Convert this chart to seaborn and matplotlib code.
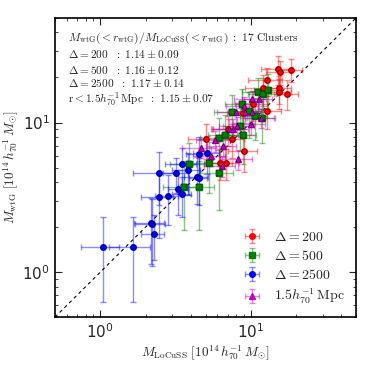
import numpy as np
import seaborn as sns
import matplotlib
matplotlib.use("Agg")
import matplotlib.pyplot as plt
from matplotlib.colors import to_rgba

# values (10^14 h70^-1 Msun)
x200 = [15.2, 15.6, 18.5, 12.8, 12.1, 15.4, 15.4, 17.4, 10.3, 12.8, 8.9, 5.0, 7.5, 9.0, 6.2, 6.8, 7.0]
y200 = [22.9, 21.9, 22.6, 19.1, 16.9, 16.9, 15.9, 15.6, 13.2, 12.0, 11.5, 7.7, 7.8, 6.5, 5.4, 5.4, 9.0]
xe200 = [3.5, 3.0, 3.5, 3.2, 3.0, 3.0, 3.0, 3.2, 2.5, 3.0, 2.0, 1.2, 1.5, 2.0, 1.3, 1.5, 1.5]
ye200 = [5.0, 4.0, 4.0, 4.0, 4.0, 3.5, 3.5, 3.5, 3.0, 3.0, 2.5, 2.0, 2.0, 1.8, 1.3, 1.3, 2.0]

x500 = [11.2, 12.1, 13.0, 8.7, 7.5, 9.7, 10.7, 11.9, 8.9, 6.7, 6.1, 5.3, 3.9, 6.1, 3.6, 4.5, 8.5]
y500 = [15.9, 15.4, 16.5, 13.2, 11.7, 11.9, 11.1, 10.8, 8.3, 8.2, 7.9, 5.4, 5.3, 4.6, 3.7, 3.7, 9.5]
xe500 = [2.5, 2.5, 2.5, 2.0, 1.8, 2.0, 2.2, 2.5, 2.0, 1.5, 1.5, 1.2, 1.0, 1.5, 1.0, 1.2, 2.0]
ye500 = [4.0, 4.5, 4.5, 3.5, 3.5, 4.0, 3.5, 3.5, 3.0, 3.0, 2.8, 2.0, 2.0, 2.0, 1.8, 1.8, 3.0]

x2500 = [5.1, 4.5, 3.5, 3.2, 2.45, 4.4, 4.5, 3.3, 3.5, 2.45, 2.8, 2.17, 2.2, 2.27, 1.04, 1.65, 3.8]
y2500 = [6.3, 6.2, 5.3, 4.6, 4.6, 4.35, 4.29, 3.6, 3.35, 3.2, 3.25, 2.14, 2.1, 1.81, 1.48, 1.48, 4.8]
xe2500 = [1.0, 0.8, 0.8, 0.6, 0.8, 0.8, 0.6, 0.5, 0.5, 0.6, 0.5, 0.5, 0.5, 0.4, 0.3, 0.5, 0.8]
ye2500 = [1.8, 1.8, 1.5, 1.2, 1.8, 1.5, 1.5, 1.2, 1.0, 1.5, 1.2, 1.0, 1.0, 0.6, 0.85, 0.85, 1.5]

xmpc = [10.2, 11.3, 8.0, 9.1, 10.2, 11.7, 8.1, 7.2, 7.6, 10.0, 4.7, 6.5, 8.2, 6.4, 5.8, 9.0, 5.4]
ympc = [14.3, 14.3, 11.7, 11.7, 11.7, 10.8, 9.5, 9.1, 9.1, 9.7, 6.8, 7.0, 5.7, 5.1, 7.6, 12.8, 6.0]
xempc = [2.5, 2.5, 2.0, 2.0, 2.5, 2.5, 2.0, 1.8, 2.0, 2.5, 1.2, 1.5, 2.0, 1.5, 1.5, 2.2, 1.3]
yempc = [2.0, 2.0, 1.8, 1.8, 1.8, 1.6, 1.4, 1.4, 1.4, 1.5, 1.0, 1.0, 0.9, 0.8, 1.2, 2.0, 0.9]

labels = [r"$\Delta=200$", r"$\Delta=500$", r"$\Delta=2500$", r"$1.5h_{70}^{-1}\,\rm Mpc$"]
stats = [r"$\Delta=200\ \ :\ 1.14\pm0.09$",
         r"$\Delta=500\ \ :\ 1.16\pm0.12$",
         r"$\Delta=2500\ \ :\ 1.17\pm0.14$",
         r"$\rm r<1.5\mathit{h}_{70}^{-1}\,Mpc\ \ :\ 1.15\pm0.07$"]
stat_y = [0.88, 0.826, 0.783, 0.728]

sns.set_style("ticks")

series = [
    (x200, y200, xe200, ye200, "o", "red"),
    (x500, y500, xe500, ye500, "s", "green"),
    (x2500, y2500, xe2500, ye2500, "o", "blue"),
    (xmpc, ympc, xempc, yempc, "^", "m"),
]

fig = plt.figure(figsize=(3.74, 3.74), dpi=100)
ax = fig.add_axes([0.147, 0.152, 0.805, 0.80])

lim = [0.5, 50]
ax.plot(lim, lim, ls=(0, (3, 3)), color="k", lw=0.8, zorder=1)

handles = []
for (x, y, xe, ye, mk, c), lab in zip(series, labels):
    h = ax.errorbar(x, y, xerr=xe, yerr=ye, fmt=mk, color=c, ms=4,
                    mec=c, ecolor=to_rgba(c, 0.45), elinewidth=1.0,
                    capsize=2.5, capthick=1.0, zorder=2, label=lab)
    handles.append(h)
    sns.scatterplot(x=x, y=y, marker=mk, color=c, s=14, edgecolor="k",
                    linewidth=0.3, ax=ax, zorder=3, legend=False)

ax.set_xscale("log")
ax.set_yscale("log")
ax.set_xlim(lim)
ax.set_ylim(lim)

for s in ax.spines.values():
    s.set_visible(True)
    s.set_linewidth(1.2)
    s.set_color("k")
ax.tick_params(which="both", direction="in", top=True, right=True, labelsize=11)
ax.tick_params(which="major", length=5)
ax.tick_params(which="minor", length=2.5)

ax.set_xlabel(r"$M_{\rm LoCuSS}\ [10^{14}\,h_{70}^{-1}\,M_{\odot}]$", fontsize=9.5,
              math_fontfamily="cm", labelpad=2)
ax.set_ylabel(r"$M_{\rm wtG}\ [10^{14}\,h_{70}^{-1}\,M_{\odot}]$", fontsize=9.5,
              math_fontfamily="cm", labelpad=2)

ax.text(0.043, 0.957, r"$M_{\rm wtG}(<r_{\rm wtG})/M_{\rm LoCuSS}(<r_{\rm wtG})\ :\ 17\ \rm Clusters$",
        transform=ax.transAxes, fontsize=8.3, math_fontfamily="cm", va="top")
for t, yy in zip(stats, stat_y):
    ax.text(0.043, yy, t, transform=ax.transAxes, fontsize=8.2,
            math_fontfamily="cm", va="center")

leg = ax.legend(handles=handles, loc="lower right", frameon=False, fontsize=10,
                handlelength=1.6, labelspacing=0.35, borderaxespad=0.4)
for t in leg.get_texts():
    t.set_math_fontfamily("cm")

fig.savefig("out.png", dpi=100)
